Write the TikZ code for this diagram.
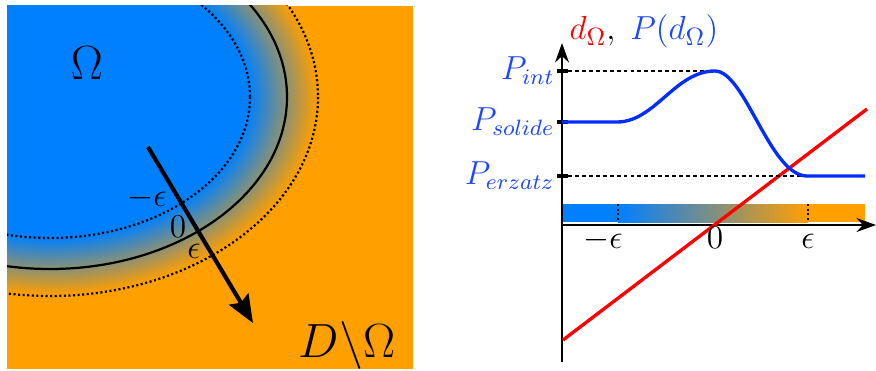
\documentclass[tikz,border=0pt]{standalone}
\usetikzlibrary{arrows.meta}
\definecolor{oblue}{RGB}{0,128,255}
\definecolor{oorange}{RGB}{255,159,0}
\definecolor{pblue}{RGB}{30,70,255}
\definecolor{cblue}{RGB}{0,45,255}
\tikzset{
  dotline/.style={line width=0.8pt, dash pattern=on 0.75pt off 0.9pt},
  axisline/.style={line width=0.9pt, -{Stealth[length=7pt,width=5pt]}},
  tickmark/.style={line width=1.1pt},
  guide/.style={line width=0.4pt, dash pattern=on 1.4pt off 1.1pt},
  plabel/.style={text=pblue, anchor=east, font=\fontsize{11.5}{13}\selectfont, inner sep=0pt},
  axlabel/.style={anchor=base, font=\fontsize{11.5}{13}\selectfont, inner sep=0pt},
  mlabel/.style={anchor=base, font=\large, inner sep=0pt}
}
\begin{document}
\begin{tikzpicture}[x=0.36pt,y=-0.36pt]
\useasboundingbox (0,0) rectangle (876,371);
% ---------- left panel ----------
\begin{scope}
\clip (7,6) rectangle (413,369);
\fill[oorange] (7,6) rectangle (413,369);
\foreach \i in {0,...,60}{
  \pgfmathsetmacro\t{1-\i/60}
  \pgfmathsetmacro\ra{200+68*\t}
  \pgfmathsetmacro\rb{141+58*\t}
  \pgfmathsetmacro\p{100*\t}
  \fill[oorange!\p!oblue] (50,97) ellipse [x radius=\ra, y radius=\rb];
}
\draw[line width=0.8pt] (50,97) ellipse [x radius=237, y radius=172];
\draw[dotline] (50,97) ellipse [x radius=200, y radius=141];
\draw[dotline] (50,97) ellipse [x radius=268, y radius=199];
\end{scope}
\node[font=\LARGE] (omega) at (87,63) {$\Omega$};
\node[font=\LARGE] (domega) at (347,345) {$D\backslash\Omega$};
\coordinate (as) at (148,147);
\coordinate (ae) at (253,323);
\draw[line width=1.5pt, -{Stealth[length=10pt,width=8pt,inset=1.5pt]}] (as) -- (ae);
\node[mlabel] (lme) at (147,206) {$-\epsilon$};
\node[mlabel] (lz) at (178,237) {$0$};
\node[mlabel] (lpe) at (194,258) {$\epsilon$};
% ---------- right panel ----------
\shade[left color=oblue, right color=oorange] (618,204) rectangle (808,222);
\fill[oblue] (562,204) rectangle (618.5,222);
\fill[oorange] (807.5,204) rectangle (865,222);
\draw[dotline, line width=1pt] (618,204) -- (618,222);
\draw[dotline, line width=1pt] (808,204) -- (808,222);
\coordinate (o) at (562,225);
\coordinate (yb) at (562,362);
\coordinate (yt) at (562,43);
\coordinate (xr) at (876,225);
\draw[axisline] (yb) -- (yt);
\draw[axisline] (o) -- (xr);
% red line
\coordinate (r1) at (563,340);
\coordinate (r2) at (867,109);
\draw[red, line width=1.2pt] (r1) -- (r2);
% ticks and guides
\draw[tickmark] (557,71) -- (568,71);
\draw[tickmark] (557,122) -- (568,122);
\draw[tickmark] (557,176) -- (568,176);
\draw[guide] (568,71) -- (715,71);
\draw[guide] (568,176) -- (805,176);
% blue curve
\draw[cblue, line width=1.2pt] (562,122) -- (617,122)
  .. controls (655,122) and (675,71) .. (715,71)
  .. controls (745,71) and (770,176) .. (807,176) -- (865,176);
% labels
\node[plabel] (pint) at (555,71) {$P_{int}$};
\node[plabel] (psol) at (555,122) {$P_{solide}$};
\node[plabel] (perz) at (555,176) {$P_{erzatz}$};
\node[axlabel] (tme) at (603,248) {$-\epsilon$};
\node[axlabel] (tz) at (715,248) {$0$};
\node[axlabel] (tpe) at (808,248) {$\epsilon$};
\node[anchor=base west, font=\fontsize{13}{16}\selectfont, inner sep=0pt] (title) at (569,40)
  {$\color{red}d_\Omega\color{black},\;\color{pblue}P(d_\Omega)$};
\end{tikzpicture}
\end{document}
